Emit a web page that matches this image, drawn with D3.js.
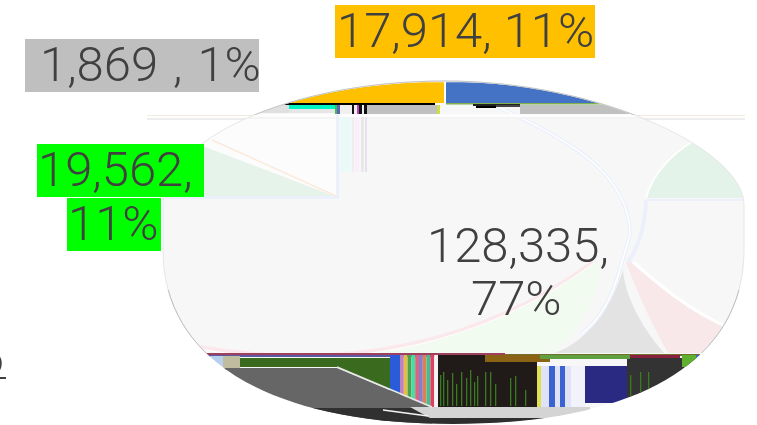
<!DOCTYPE html>
<html><head><meta charset="utf-8">
<script src="https://cdn.jsdelivr.net/npm/d3@7/dist/d3.min.js"></script>
<style>html,body{margin:0;padding:0;background:#fff;overflow:hidden}svg{display:block}
text{font-family:Roboto,sans-serif;font-weight:300;fill:#404040}</style></head>
<body><svg id="c" width="757" height="425"></svg>
<script>
// Data
const categories = ["A","B","C","D"];
const seriesValues = [128335,19562,1869,17914];
const valueLabels = [["128,335,","77%"],["19,562,","11%"],["1,869 , 1%"],["17,914, 11%"]];
const sliceColors = ["#4472C4","#00B050","#A5A5A5","#FFC000"];
const labelBgs = [null,"#00FF00","#BFBFBF","#FFC000"];

// Layout of each label line: [text x, baseline, box x, box width]
const labelPos = [
 [[427,262,0,0],[471,315,0,0]],
 [[38,186,37,167],[68,240,67,94]],
 [[40,81,25,234]],
 [[337,47,335,260]]
];

// Rendering artefacts of the picture: [x,y,w,h,colour]
const artefactRects = [
 [255,104,34,9,"#e0e0e0"],[289,105,46,4,"#00f5c4"],[289,109,46,4,"#e6e6e6"],
 [335,105,2,9,"#40c040"],[337,105,3,9,"#6060c0"],[340,105,12,9,"#f0f0f0"],
 [352,105,2,10,"#111"],[354,105,3,10,"#eee"],[357,105,2,10,"#c040c0"],[359,105,3,10,"#111"],
 [362,105,2,10,"#eee"],[364,105,3,10,"#111"],[367,105,70,9,"#c0c0c0"],[437,105,3,9,"#d0e040"],
 [283,103,152,2,"#000"],[446,103,160,1.5,"#80b050"],[520,105,125,9,"#c0c0c0"],
 [473,104,47,2,"#222"],[476,106,20,2,"#000"],[496,105,24,2,"#444"],
 [147,114,600,3,"#fdfdfd"],[147,117,600,2,"#f4f4f4"],
 [337,117,14,55,"#eafaf8"],[352,117,2,55,"#eeeeee"],[355,117,4,55,"#fbeefb"],[361,117,3,55,"#e8e8e8"],[365,117,2,55,"#e4e0ee"],
 [165,196,173,3,"#ebf0fa"],[336,115,3,84,"#ebf0fa"],[646,199,98,2,"#ebf0fa"],

 [205,353,300,2,"#a04060"],[205,355,300,2,"#5a5aa0"],[505,354,195,2,"#70702a"],
 [205,356,18,12,"#b8cff0"],[223,356,17,12,"#c0bca0"],
 [225,368,70,2,"#7a3040"],[390,355,10,40,"#2a5bd8"],
 [437,355,100,52,"#201a18"],[485,355,65,7,"#8a6414"],
 [537,366,4,41,"#e0e050"],[541,366,44,41,"#dfe3f5"],[549,366,6,41,"#3a62d0"],[560,366,5,41,"#3a62d0"],[571,366,14,41,"#f2f2fa"],
 [585,366,42,37,"#2a2a82"],[627,358,125,48,"#333333"],
 [540,355,90,4,"#60a040"],[630,355,50,3,"#8a2040"],[682,355,14,12,"#60b030"],[696,355,8,6,"#3a62d0"],
];
const stripeColors = ["#c080c0","#e0c040","#50a050","#40e0a0","#e06080","#8080d0","#e08050","#40c090","#e04060","#f4f4f4"];
const stickX = [440,443,447,452,456,461,466,470,474,477,485,490,495,510,515,525,630,640,648];
const stickTop = [375,372,380,373,384,372,378,370,382,376,372,372,384,378,376,390,375,372,372];

const svg = d3.select("#c");
const defs = svg.append("defs");

// Silhouette: top half and bottom half of the squashed pie
const sil = d3.path();
sil.moveTo(163,205);
sil.bezierCurveTo(163,140,290,81,445,81);
sil.bezierCurveTo(600,81,744,150,744,205);
sil.lineTo(744,250);
sil.bezierCurveTo(744,360,640,424,453,424);
sil.bezierCurveTo(270,424,163,360,163,250);
sil.closePath();
const clipBand = (id,y,h)=>defs.append("clipPath").attr("id",id).append("rect").attr("x",0).attr("y",y).attr("width",757).attr("height",h);
defs.append("clipPath").attr("id","sil").append("path").attr("d",sil.toString());
clipBand("topBand",0,103);
clipBand("upper",0,353);
clipBand("outlineTop",0,115);
clipBand("outlineLow",290,63);

// faint streaks that run past the pie
svg.append("rect").attr("x",147).attr("y",115).attr("width",598).attr("height",1).attr("fill","#f2ece0");
svg.append("rect").attr("x",147).attr("y",118).attr("width",598).attr("height",2).attr("fill","#ededed");

const g = svg.append("g").attr("clip-path","url(#sil)");
g.append("path").attr("d",sil.toString()).attr("fill","#f7f7f8");

// Pale area top-left
g.append("rect").attr("x",163).attr("y",117).attr("width",175).attr("height",80).attr("fill","#fcfcfc");

// Real pie slices (only the top band keeps true colours)
const pie = d3.pie().value(d=>d).sort(null);
const arc = d3.arc().innerRadius(0).outerRadius(1);
const slices = pie(seriesValues);
const pg = g.append("g").attr("clip-path","url(#topBand)");
pg.selectAll("path").data(slices).join("path")
  .attr("transform",d=>`translate(445,205) scale(${d.startAngle>Math.PI?282:290},124)`)
  .attr("d",arc).attr("fill",(d,i)=>sliceColors[i])
  .attr("stroke","#fff").attr("stroke-width",2).attr("vector-effect","non-scaling-stroke");

const poly = (pts,fill)=>g.append("path").attr("d",d3.line()(pts)+"Z").attr("fill",fill);

poly([[150,143],[205,147],[337,197],[150,197]],"#e6f3ea");
g.append("path").attr("d",d3.line()([[212,140],[336,196]])).attr("stroke","#fbeadb").attr("stroke-width",1.5).attr("fill","none");

// right green wedge
g.append("path").attr("d","M693,141 Q655,165 646,198 L760,198 L760,141 Z").attr("fill","#e4f3ea");
g.append("path").attr("d","M693,141 Q655,165 646,198").attr("stroke","#fff").attr("stroke-width",2).attr("fill","none");

// bottom wedges
g.append("path").attr("d","M202,351 C340,372 480,345 593,262 L600,262 C600,290 585,325 555,353 L200,353 Z").attr("fill","#f1fbef");
g.append("path").attr("d","M200,347 C340,372 480,345 593,262").attr("stroke","#fae8ec").attr("stroke-width",4).attr("fill","none");
g.append("path").attr("d","M200,349 C340,374 480,347 594,263").attr("stroke","#fff").attr("stroke-width",1).attr("fill","none");
g.append("path").attr("d","M626,262 C640,300 655,330 668,353 L760,353 L760,262 Z").attr("fill","#f8e8ea");
g.append("path").attr("d","M633,262 C665,290 690,310 725,326 L760,326 L760,262 Z").attr("fill","#f7f7f8");
g.append("path").attr("d","M633,262 C665,290 690,310 725,326").attr("stroke","#fff").attr("stroke-width",3).attr("fill","none");
g.append("path").attr("d","M623,270 C625,295 640,325 664,353 L555,353 C590,340 612,305 623,270 Z").attr("fill","#e3e3e3");

// curved pale double lines
const curve1 = "M500,108 C570,140 630,175 630,235 L622,262 C612,300 600,320 580,335";
const curve2 = "M646,200 C645,225 640,245 628,262";
g.append("path").attr("d",curve1).attr("stroke","#ebf0fa").attr("stroke-width",4).attr("fill","none");
g.append("path").attr("d",curve1).attr("stroke","#fff").attr("stroke-width",1.5).attr("fill","none");
g.append("path").attr("d",curve2).attr("stroke","#ebf0fa").attr("stroke-width",4).attr("fill","none");

// Artefact bands
g.selectAll("rect.a").data(artefactRects).join("rect").attr("class","a")
  .attr("x",d=>d[0]).attr("y",d=>d[1]).attr("width",d=>d[2]).attr("height",d=>d[3]).attr("fill",d=>d[4]);
// dark green band with its diagonal edge
poly([[240,358],[390,358],[390,395],[400,395],[400,407],[432,407],[337,367],[240,367]],"#3a6a1e");
// stripes
const sx = d3.scaleBand().domain(d3.range(stripeColors.length)).range([400,438]);
g.selectAll("rect.s").data(stripeColors).join("rect").attr("class","s")
  .attr("x",(d,i)=>sx(i)).attr("y",355).attr("width",sx.bandwidth()).attr("height",52).attr("fill",d=>d);
// diagonal gray and lower bands
poly([[205,368],[337,368],[432,408],[432,425],[205,425]],"#666666");
poly([[300,408],[440,408],[440,425],[300,425]],"#303030");
poly([[410,407],[590,407],[590,418],[430,418]],"#d4d4d4");
poly([[440,418],[700,418],[700,425],[440,425]],"#2e2e2e");
g.append("path").attr("d",d3.line()([[337,367],[432,407]])).attr("stroke","#e8e8e8").attr("stroke-width",1.5).attr("fill","none");
g.append("path").attr("d",d3.line()([[383,410],[428,416]])).attr("stroke","#f4f4f4").attr("stroke-width",1.5).attr("fill","none");
// sticks
g.selectAll("rect.k").data(stickX).join("rect").attr("class","k")
  .attr("x",d=>d).attr("y",(d,i)=>stickTop[i]).attr("width",1.3).attr("height",(d,i)=>406-stickTop[i]).attr("fill","#3a7a20");

// outline: faint through the washed-out part, stronger where the reference keeps it
const outline = (clip,color)=>svg.append("path").attr("d",sil.toString()).attr("fill","none")
  .attr("stroke",color).attr("stroke-width",1).attr("clip-path",`url(#${clip})`);
outline("upper","#e6e6e6");
outline("outlineTop","#c6c6c6");
outline("outlineLow","#c0c0c0");

// Labels
const labels = svg.append("g");
const fs = 49;
seriesValues.forEach((v,i)=>{
  const gl = labels.append("g");
  valueLabels[i].forEach((t,j)=>{
    const [x,y,bx,bw] = labelPos[i][j];
    if(labelBgs[i]) gl.append("rect").attr("x",bx).attr("y",y-42).attr("width",bw).attr("height",53).attr("fill",labelBgs[i]);
    gl.append("text").attr("x",x).attr("y",y).attr("font-size",fs)
      .attr("word-spacing",i===2?3:0).text(t);
  });
});
// clipped glyph at the left edge
svg.append("text").attr("x",-23).attr("y",375).attr("font-size",fs).text("6");
svg.append("rect").attr("x",0).attr("y",377).attr("width",6).attr("height",2).attr("fill","#404040");
</script></body></html>
